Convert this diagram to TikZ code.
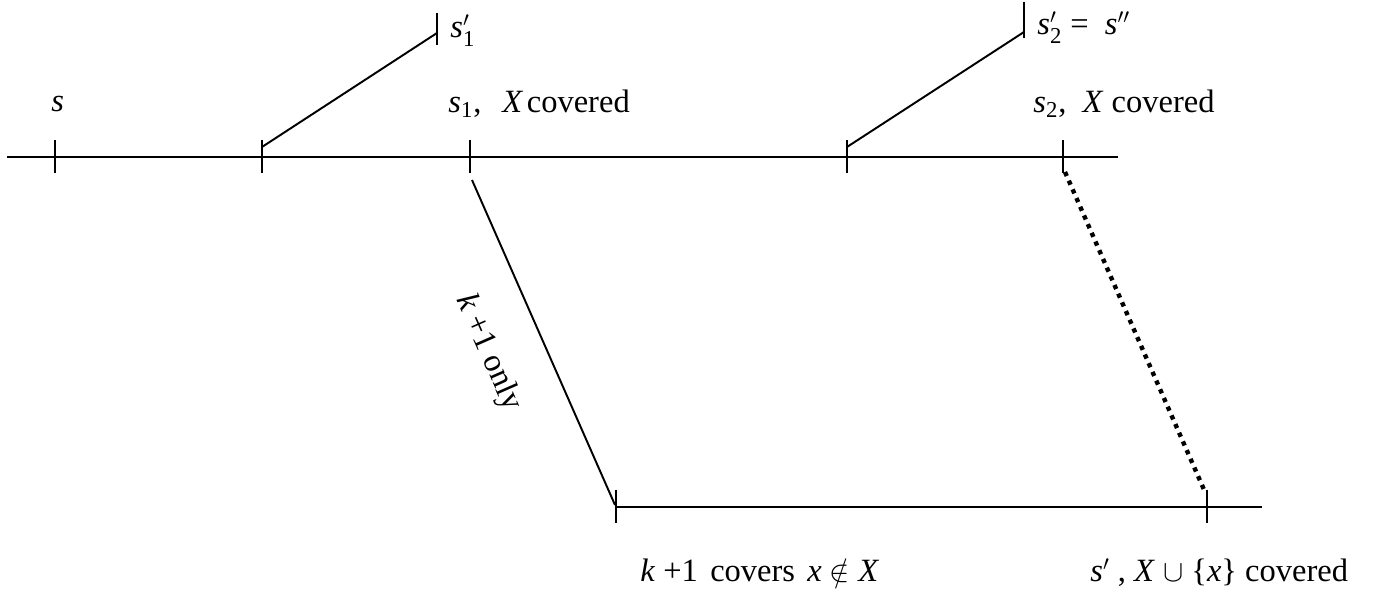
\documentclass[tikz,border=0pt]{standalone}
\usepackage{amsmath}
\usepackage{fontspec}
\setmainfont{Liberation Serif}
\usetikzlibrary{positioning}

\newcommand{\vr}[1]{\textit{#1}}
\tikzset{
  lbl/.style={font=\fontsize{18.5}{21}\selectfont, inner sep=0pt, anchor=base west},
  axis/.style={line width=1.1pt},
  dots/.style={line width=2.5pt, dash pattern=on 2.5pt off 2.9pt}
}

\begin{document}
\begin{tikzpicture}[x=0.02cm,y=-0.02cm]
  \useasboundingbox (0,0) rectangle (1374,590);
  % points on the lines
  \coordinate (topL) at (7,157);
  \coordinate (topR) at (1118,157);
  \coordinate (br1) at (262,147);
  \coordinate (br2) at (847,147);
  \coordinate (t1) at (437,33);
  \coordinate (t2) at (1024,32);
  \coordinate (s1dn) at (472,180);
  \coordinate (kup) at (615,505);
  \coordinate (s2dn) at (1065,172);
  \coordinate (spup) at (1205,492);
  \coordinate (botL) at (616,507);
  \coordinate (botR) at (1262,507);
  % lines
  \draw[axis] (topL) -- (topR);
  \draw[axis] (botL) -- (botR);
  \draw[axis] (br1) -- (t1);
  \draw[axis] (br2) -- (t2);
  \draw[axis] (s1dn) -- (kup);
  \draw[dots] (s2dn) -- (spup);
  % ticks
  \foreach \x in {55,262,470,847,1063}
    \draw[axis] (\x,140) -- (\x,173);
  \draw[axis] (437,13) -- (437,45);
  \draw[axis] (1024,2) -- (1024,38);
  \foreach \x in {616,1207}
    \draw[axis] (\x,490) -- (\x,523);
  % labels
  \node[lbl] (lS) at (51,112) {\vr{s}};
  \node[lbl] (lS1) at (448,113) {\vr{s}$_{\text{1}}$,\hspace{12pt}\vr{X}\hspace{2pt}covered};
  \node[lbl] (lT1) at (450,38) {\vr{s}$'_{\text{1}}$};
  \node[lbl] (lT2) at (1037,35) {\vr{s}$'_{\text{2}}$\ =\ \ \vr{s}$''$};
  \node[lbl] (lS2) at (1033,113) {\vr{s}$_{\text{2}}$,\ \ \vr{X} covered};
  \node[lbl] (lK) at (640,582) {\vr{k} +1\hspace{7pt}covers\hspace{7pt}\vr{x} $\notin$ \vr{X}};
  \node[lbl] (lSp) at (1090,582) {\vr{s}$'$\ ,\ \vr{X}\ $\cup$\ \{\vr{x}\}\ covered};
  \node[lbl,rotate=-66.25,anchor=center] (lOnly) at (488,353) {\vr{k} +1 only};
\end{tikzpicture}
\end{document}
